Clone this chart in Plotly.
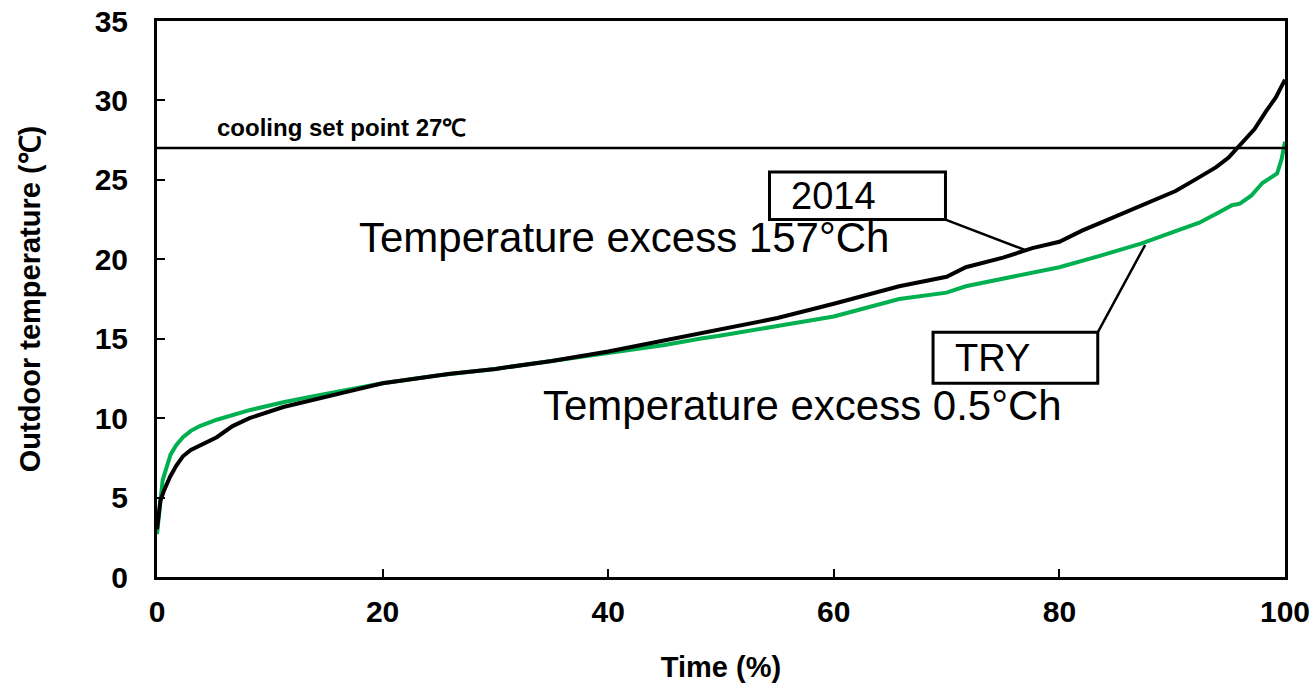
import plotly.graph_objects as go

# ---- data ----
time_2014 = [0, 0.3, 0.6, 1.15, 1.7, 2.3, 3.0, 3.8, 5.3, 6.7, 8.2, 11.2, 14, 17.1, 20, 23, 26, 30,
             35, 40, 45, 48.1, 50, 55, 60, 65.8, 70, 71.7, 75, 77.6, 80, 82, 84, 86.4, 88, 90.3,
             92, 93.9, 95, 96.2, 97.3, 98.3, 99.2, 99.7, 100]
temp_2014 = [3.0, 4.8, 5.4, 6.3, 7.0, 7.6, 8.0, 8.3, 8.8, 9.5, 10.0, 10.7, 11.2, 11.7, 12.2, 12.5,
             12.8, 13.1, 13.6, 14.2, 14.9, 15.3, 15.6, 16.3, 17.2, 18.3, 18.9, 19.5, 20.1, 20.7,
             21.1, 21.8, 22.4, 23.1, 23.6, 24.3, 25.0, 25.8, 26.4, 27.3, 28.2, 29.3, 30.2, 30.9, 31.3]

time_try = [0, 0.5, 1.2, 1.7, 2.3, 3.0, 3.8, 5.3, 8.2, 11.2, 14, 17.1, 20, 25, 30, 35, 40, 45,
            48.1, 50, 55, 60, 65.8, 70, 71.7, 75, 77.6, 80, 83.5, 85, 87.3, 90, 92.4, 94, 95.3,
            96, 97, 98, 99.3, 99.7, 100]
temp_try = [2.7, 6.1, 7.7, 8.3, 8.8, 9.2, 9.5, 9.9, 10.5, 11.0, 11.4, 11.8, 12.2, 12.7, 13.1,
            13.6, 14.1, 14.6, 15.0, 15.2, 15.8, 16.4, 17.5, 17.9, 18.3, 18.8, 19.2, 19.5, 20.2,
            20.5, 21.0, 21.7, 22.3, 22.9, 23.4, 23.5, 24.0, 24.8, 25.4, 26.3, 27.4]

set_point = 27
x_ticks = [0, 20, 40, 60, 80, 100]
y_ticks = [0, 5, 10, 15, 20, 25, 30, 35]

FONT = "Liberation Sans, Arial, sans-serif"

fig = go.Figure()
fig.add_trace(go.Scatter(x=time_try, y=temp_try, mode="lines", name="TRY",
                         line=dict(color="#00B050", width=4)))
fig.add_trace(go.Scatter(x=time_2014, y=temp_2014, mode="lines", name="2014",
                         line=dict(color="#000000", width=4)))

# cooling set point line
fig.add_shape(type="line", xref="x", yref="y", x0=0, x1=100, y0=set_point, y1=set_point,
              line=dict(color="black", width=2.5))

# label boxes and leader lines
fig.add_shape(type="rect", xref="x", yref="y", x0=54.3, x1=69.9, y0=22.5, y1=25.5,
              line=dict(color="black", width=3), fillcolor="white")
fig.add_shape(type="line", xref="x", yref="y", x0=69.9, y0=22.5, x1=76.9, y1=20.6,
              line=dict(color="black", width=2.5))
fig.add_shape(type="rect", xref="x", yref="y", x0=68.8, x1=83.4, y0=12.2, y1=15.4,
              line=dict(color="black", width=3), fillcolor="white")
fig.add_shape(type="line", xref="x", yref="y", x0=83.4, y0=15.4, x1=87.6, y1=20.9,
              line=dict(color="black", width=2.5))

fig.add_annotation(x=5.1, y=28.3, text="cooling set point 27℃", showarrow=False,
                   xanchor="left", yanchor="middle",
                   font=dict(family=FONT, size=24, color="black", weight="bold"))
fig.add_annotation(x=56.0, y=24.0, text="2014", showarrow=False, xanchor="left", yanchor="middle",
                   font=dict(family=FONT, size=38, color="black"))
fig.add_annotation(x=70.6, y=13.8, text="TRY", showarrow=False, xanchor="left", yanchor="middle",
                   font=dict(family=FONT, size=38, color="black"))
fig.add_annotation(x=17.7, y=21.4, text="Temperature excess 157°Ch", showarrow=False,
                   xanchor="left", yanchor="middle", font=dict(family=FONT, size=42, color="black"))
fig.add_annotation(x=34.0, y=10.8, text="Temperature excess 0.5°Ch", showarrow=False,
                   xanchor="left", yanchor="middle", font=dict(family=FONT, size=42, color="black"))

fig.update_layout(
    width=1316, height=691,
    margin=dict(l=157, r=31, t=21, b=114, autoexpand=False),
    paper_bgcolor="white", plot_bgcolor="white",
    showlegend=False,
    font=dict(family=FONT, color="black"),
)
fig.update_xaxes(
    range=[0, 100], tickvals=x_ticks, ticktext=[str(v) for v in x_ticks],
    showgrid=False, zeroline=False, showline=True, linecolor="black", linewidth=3, mirror=True,
    ticks="inside", ticklen=8, tickwidth=2, tickcolor="black", automargin=False,
    tickfont=dict(family=FONT, size=30, color="black", weight="bold"),
    ticklabelstandoff=6, ticklabeloverflow="allow",
    title=dict(text="Time (%)", font=dict(family=FONT, size=29, color="black", weight="bold"),
               standoff=30),
)
fig.update_yaxes(
    range=[0, 35], tickvals=y_ticks, ticktext=[str(v) for v in y_ticks],
    showgrid=False, zeroline=False, showline=True, linecolor="black", linewidth=3, mirror=True,
    ticks="inside", ticklen=8, tickwidth=2, tickcolor="black", automargin=False,
    tickfont=dict(family=FONT, size=30, color="black", weight="bold"),
    ticklabelstandoff=20, ticklabeloverflow="allow",
    title=dict(text="Outdoor temperature (℃)",
               font=dict(family=FONT, size=29, color="black", weight="bold"), standoff=46),
)

fig.write_html("out.html", config={"displayModeBar": False},
               post_script="document.body.style.margin='0';document.body.style.overflow='hidden';")
